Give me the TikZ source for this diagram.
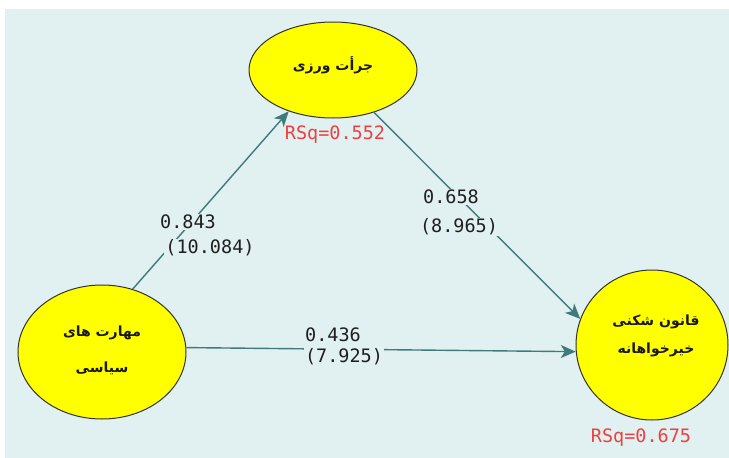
\documentclass[tikz,border=0pt]{standalone}
\usepackage{fontspec}
\newfontfamily\farsi[Script=Arabic]{DejaVu Sans}
\newfontfamily\numfont{DejaVu Sans Mono}
\TeXXeTstate=1
\usetikzlibrary{shapes.geometric,arrows.meta}

\definecolor{panel}{RGB}{225,240,240}
\definecolor{pathcol}{RGB}{64,122,122}
\definecolor{rsqred}{RGB}{238,64,64}
\definecolor{nodeyellow}{RGB}{255,255,0}

\tikzset{
    latent/.style={ellipse, draw=black!80, fill=nodeyellow, line width=1pt, inner sep=0pt},
    farsitext/.style={font=\farsi\bfseries\fontsize{14}{14}\selectfont, text=black!90, inner sep=0pt},
    pathline/.style={draw=pathcol, line width=1.4pt, -{Stealth[length=15pt,width=13pt,inset=4pt]}},
    coef/.style={font=\numfont\fontsize{18.5}{18.5}\selectfont, text=black!88, fill=panel, inner sep=1pt},
    rsq/.style={font=\numfont\fontsize{18.5}{18.5}\selectfont, text=rsqred, inner sep=0pt}
}

\begin{document}
\begin{tikzpicture}[x=1pt,y=-1pt]

    % Page and panel
    \useasboundingbox (0,0) rectangle (729,458);
    \fill[white] (0,0) rectangle (729,458);
    \fill[panel] (5,9) rectangle (729,458);

    % The three latent variables
    \node[latent, minimum width=168pt, minimum height=96pt]  (jr) at (333,70)  {};
    \node[latent, minimum width=168pt, minimum height=134pt] (mh) at (102,352) {};
    \node[latent, minimum width=152pt, minimum height=150pt] (qs) at (652,345) {};

    % Their names
    \node[farsitext] (jrname)  at (333,65)  {\beginR جرأت ورزی\endR};
    \node[farsitext] (mhname1) at (102,333) {\beginR مهارت های\endR};
    \node[farsitext] (mhname2) at (102,368) {\beginR سیاسی\endR};
    \node[farsitext] (qsname1) at (656,322) {\beginR قانون شکنی\endR};
    \node[farsitext] (qsname2) at (656,350) {\beginR خیرخواهانه\endR};

    % Paths between them
    \draw[pathline] (mh.64) -- (jr.223);
    \draw[pathline] (jr.314) -- (qs.160);
    \draw[pathline] (mh.3) -- (qs.185);

    % Path coefficients (t-values below)
    \node[coef] (c1) at (188,222) {0.843};
    \node[coef] (t1) at (210,248) {(10.084)};
    \node[coef] (c2) at (451,197) {0.658};
    \node[coef] (t2) at (459,227) {(8.965)};
    \node[coef] (c3) at (333,335) {0.436};
    \node[coef] (t3) at (344,357) {(7.925)};

    % R squared values
    \node[rsq] (rsq1) at (335,135) {RSq=0.552};
    \node[rsq] (rsq2) at (641,438) {RSq=0.675};

\end{tikzpicture}
\end{document}
